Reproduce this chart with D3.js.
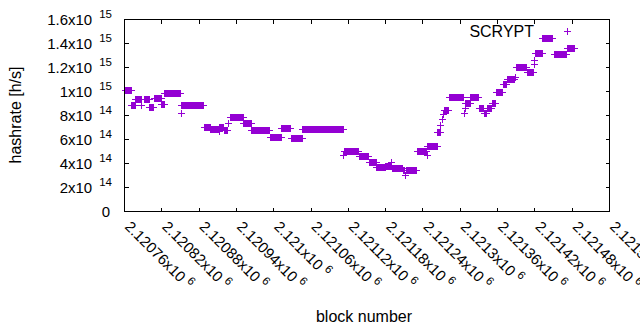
<!DOCTYPE html>
<html lang="en">
<head>
  <meta charset="UTF-8" />
  <title>SCRYPT hashrate</title>
  <script src="https://d3js.org/d3.v7.min.js"></script>
  <style>
    body {
      margin: 0;
      background: #fff;
    }
    svg {
      display: block;
      font-family: 'Liberation Sans', Arial, sans-serif;
    }
  </style>
</head>
<body>
  <svg id="chart" width="640" height="330"></svg>
  <script>
    // runs of blocks that share the same estimated hashrate
    const runStart = [
      2120761, 2120772, 2120778, 2120788, 2120792, 2120801, 2120809, 2120820, 2120825, 2120851,
      2120852, 2120854, 2120889, 2120899, 2120912, 2120913, 2120921, 2120927, 2120930, 2120952,
      2120965, 2120994, 2121013, 2121028, 2121047, 2121113, 2121114, 2121138, 2121154, 2121166,
      2121180, 2121190, 2121191, 2121208, 2121212, 2121213, 2121231, 2121247, 2121248, 2121264,
      2121269, 2121271, 2121273, 2121275, 2121282, 2121306, 2121308, 2121309, 2121317, 2121331,
      2121339, 2121343, 2121352, 2121358, 2121369, 2121376, 2121389, 2121390, 2121408, 2121419,
      2121420, 2121421, 2121433, 2121452, 2121472
    ];
    const runEnd = [
      2120771, 2120777, 2120787, 2120788, 2120800, 2120806, 2120819, 2120824, 2120850, 2120851,
      2120852, 2120887, 2120898, 2120911, 2120912, 2120920, 2120926, 2120927, 2120951, 2120964,
      2120993, 2121012, 2121027, 2121046, 2121112, 2121113, 2121137, 2121153, 2121165, 2121179,
      2121189, 2121190, 2121207, 2121211, 2121212, 2121230, 2121246, 2121247, 2121263, 2121268,
      2121269, 2121271, 2121273, 2121281, 2121305, 2121306, 2121308, 2121316, 2121330, 2121338,
      2121342, 2121351, 2121357, 2121368, 2121375, 2121387, 2121389, 2121407, 2121418, 2121419,
      2121420, 2121432, 2121449, 2121471, 2121483
    ];
    const runHashrate = [
      1.005e15, 8.8e14, 9.33e14, 8.85e14, 9.3e14, 8.7e14, 9.4e14, 8.9e14, 9.8e14, 8.8e14,
      8.2e14, 8.8e14, 6.97e14, 6.86e14, 6.7e14, 7.0e14, 6.75e14, 7.35e14, 7.8e14, 7.3e14,
      6.72e14, 6.15e14, 6.92e14, 6.05e14, 6.8e14, 4.67e14, 5.0e14, 4.55e14, 4.05e14, 3.67e14,
      3.72e14, 4.1e14, 3.55e14, 3.4e14, 3.0e14, 3.4e14, 4.97e14, 4.67e14, 5.4e14, 6.6e14,
      7.17e14, 7.64e14, 8.08e14, 8.45e14, 9.46e14, 8.14e14, 8.55e14, 9.0e14, 9.46e14, 8.55e14,
      8.2e14, 8.6e14, 9.0e14, 9.9e14, 1.06e15, 1.10e15, 1.12e15, 1.197e15, 1.16e15, 1.225e15,
      1.26e15, 1.314e15, 1.44e15, 1.306e15, 1.36e15
    ];

    const xTicks = d3.range(2120760, 2121541, 60);
    const yTicks = [0, 2e14, 4e14, 6e14, 8e14, 1e15, 1.2e15, 1.4e15, 1.6e15];
    const seriesName = "SCRYPT";

    const color = "#9400d3";
    const plotLeft = 124.5, plotRight = 609.5, plotTop = 19.5, plotBottom = 211.5;
    const fontSize = 15;
    const titleSize = 16;
    const supSize = 11.5;

    // one point per block
    const points = [];
    runStart.forEach((s, i) => {
      for (let b = s; b <= runEnd[i]; b++) points.push({ block: b, hashrate: runHashrate[i] });
    });

    const x = d3.scaleLinear().domain([2120760, 2121540]).range([plotLeft, plotRight]);
    const y = d3.scaleLinear().domain([0, 1.6e15]).range([plotBottom, plotTop]);

    const svg = d3.select("#chart");

    // splits 1.2e15 into ["1.2", "15"]
    function sci(v) {
      if (v === 0) return ["0", null];
      const e = Math.floor(Math.log10(v) + 1e-9);
      return [String(+(v / Math.pow(10, e)).toFixed(3)), String(e)];
    }

    // ticks, mirrored on all four sides
    const tk = 4;
    const ticks = svg.append("g").attr("stroke", "#000").attr("stroke-width", 1)
      .attr("shape-rendering", "crispEdges");
    xTicks.forEach(t => {
      const px = Math.round(x(t) - 0.5) + 0.5;
      ticks.append("line").attr("x1", px).attr("x2", px).attr("y1", plotBottom).attr("y2", plotBottom - tk);
      ticks.append("line").attr("x1", px).attr("x2", px).attr("y1", plotTop).attr("y2", plotTop + tk);
    });
    yTicks.forEach(t => {
      const py = Math.round(y(t) - 0.5) + 0.5;
      ticks.append("line").attr("x1", plotLeft).attr("x2", plotLeft + tk).attr("y1", py).attr("y2", py);
      ticks.append("line").attr("x1", plotRight).attr("x2", plotRight - tk).attr("y1", py).attr("y2", py);
    });

    // y tick labels
    yTicks.forEach(t => {
      const [m, e] = sci(t);
      const txt = svg.append("text")
        .attr("x", e ? 112 : 110)
        .attr("y", y(t) + 5)
        .attr("text-anchor", "end")
        .attr("font-size", fontSize)
        .attr("fill", "#000");
      if (e) {
        txt.append("tspan").text(m + "x10");
        txt.append("tspan").attr("dx", 7).attr("dy", -7).attr("font-size", supSize).text(e);
      } else {
        txt.text(m);
      }
    });

    // x tick labels, rotated
    xTicks.forEach(t => {
      const txt = svg.append("text")
        .attr("transform", `translate(${x(t) - 0.5},227.5) rotate(45)`)
        .attr("font-size", fontSize)
        .attr("fill", "#000");
      txt.append("tspan").text(String(+(t / 1e6).toFixed(5)) + "x10");
      txt.append("tspan").attr("dx", 4).attr("dy", -6).attr("font-size", supSize).text("6");
    });

    // axis titles
    svg.append("text")
      .attr("transform", "translate(21,115) rotate(-90)")
      .attr("text-anchor", "middle")
      .attr("font-size", titleSize)
      .text("hashrate [h/s]");

    svg.append("text")
      .attr("x", 364)
      .attr("y", 322)
      .attr("text-anchor", "middle")
      .attr("font-size", titleSize)
      .text("block number");

    // plus marks
    function plusPath(cx, cy) {
      cx = Math.round(cx - 0.5) + 0.5;
      cy = Math.round(cy - 0.5) + 0.5;
      return `M${cx - 3.5},${cy}H${cx + 3.5}M${cx},${cy - 3.5}V${cy + 3.5}`;
    }

    svg.append("g")
      .attr("stroke", color)
      .attr("stroke-width", 1)
      .attr("fill", "none")
      .attr("shape-rendering", "crispEdges")
      .selectAll("path")
      .data(points)
      .join("path")
      .attr("d", d => plusPath(x(d.block), y(d.hashrate)));

    // key
    svg.append("text")
      .attr("x", 534)
      .attr("y", 37)
      .attr("text-anchor", "end")
      .attr("font-size", titleSize)
      .text(seriesName);
    svg.append("path")
      .attr("d", plusPath(567.5, 31.5))
      .attr("stroke", color)
      .attr("shape-rendering", "crispEdges");

    // border
    svg.append("rect")
      .attr("x", plotLeft).attr("y", plotTop)
      .attr("width", plotRight - plotLeft).attr("height", plotBottom - plotTop)
      .attr("fill", "none")
      .attr("stroke", "#000")
      .attr("shape-rendering", "crispEdges");
  </script>
</body>
</html>
